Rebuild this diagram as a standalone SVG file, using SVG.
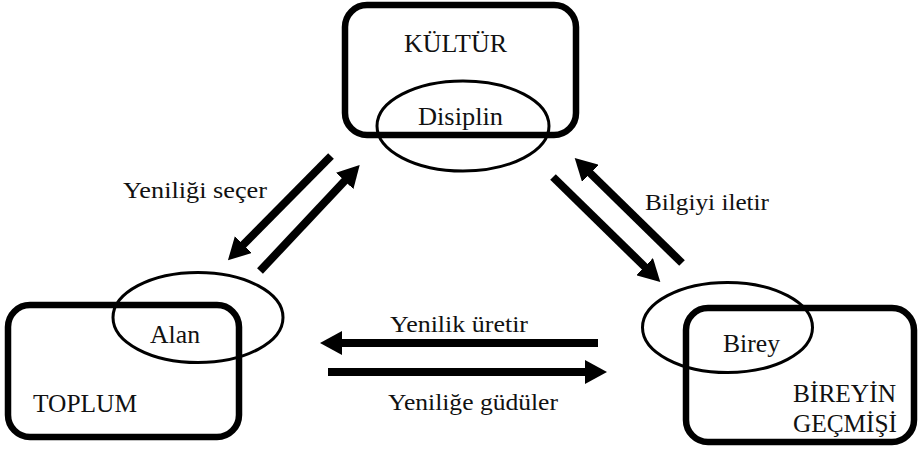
<svg xmlns="http://www.w3.org/2000/svg" width="918" height="449" viewBox="0 0 918 449">
<style>
.box{fill:none;stroke:#000;stroke-width:6.5}
.ell{fill:none;stroke:#000;stroke-width:3}
.lbl{font-size:26px;fill:#111}
.alb{font-size:24px;fill:#111}
.arr{stroke:#000;stroke-width:8;fill:none;marker-end:url(#ah)}
</style>
<defs>
<marker id="ah" markerUnits="userSpaceOnUse" markerWidth="22" markerHeight="24" refX="2" refY="12" orient="auto" viewBox="0 0 22 24">
<path d="M0,0 L22,12 L0,24 z" fill="#000"/>
</marker>
</defs>
<rect width="918" height="449" fill="#fff"/>
<g font-family="Liberation Serif, DejaVu Serif, serif">
<g id="kultur">
<rect class="box" x="345" y="5" width="231" height="130" rx="22"/>
<text class="lbl" x="404" y="52" textLength="103" lengthAdjust="spacingAndGlyphs">KÜLTÜR</text>
</g>
<g id="disiplin">
<ellipse class="ell" cx="463" cy="126" rx="86" ry="45"/>
<text class="lbl" x="418" y="125" textLength="85" lengthAdjust="spacingAndGlyphs">Disiplin</text>
</g>
<g id="toplum">
<rect class="box" x="8" y="305" width="231" height="132" rx="22"/>
<text class="lbl" x="33" y="412" textLength="104" lengthAdjust="spacingAndGlyphs">TOPLUM</text>
</g>
<g id="alan">
<ellipse class="ell" cx="198" cy="317.5" rx="85" ry="45"/>
<text class="lbl" x="150" y="343" textLength="50" lengthAdjust="spacingAndGlyphs">Alan</text>
</g>
<g id="bireyin">
<rect class="box" x="686" y="308" width="228" height="134" rx="22"/>
<text class="lbl" x="793" y="402" textLength="103" lengthAdjust="spacingAndGlyphs">BİREYİN</text>
<text class="lbl" x="793" y="432" textLength="104" lengthAdjust="spacingAndGlyphs">GEÇMİŞİ</text>
</g>
<g id="birey">
<ellipse class="ell" cx="727.5" cy="327.5" rx="85" ry="45"/>
<text class="lbl" x="723" y="352" textLength="57" lengthAdjust="spacingAndGlyphs">Birey</text>
</g>
<g id="connectors">
<line class="arr" x1="331" y1="156" x2="242" y2="246"/>
<line class="arr" x1="260" y1="271" x2="346" y2="179.5"/>
<line class="arr" x1="682" y1="263" x2="589" y2="172"/>
<line class="arr" x1="553" y1="177" x2="646" y2="268"/>
<line class="arr" x1="598" y1="343" x2="340" y2="343"/>
<line class="arr" x1="328" y1="372" x2="587" y2="372"/>
<text class="alb" x="123" y="198" textLength="144" lengthAdjust="spacingAndGlyphs">Yeniliği seçer</text>
<text class="alb" x="645" y="210" textLength="124" lengthAdjust="spacingAndGlyphs">Bilgiyi iletir</text>
<text class="alb" x="390" y="332" textLength="138" lengthAdjust="spacingAndGlyphs">Yenilik üretir</text>
<text class="alb" x="388" y="410" textLength="170" lengthAdjust="spacingAndGlyphs">Yeniliğe güdüler</text>
</g>
</g>
</svg>
